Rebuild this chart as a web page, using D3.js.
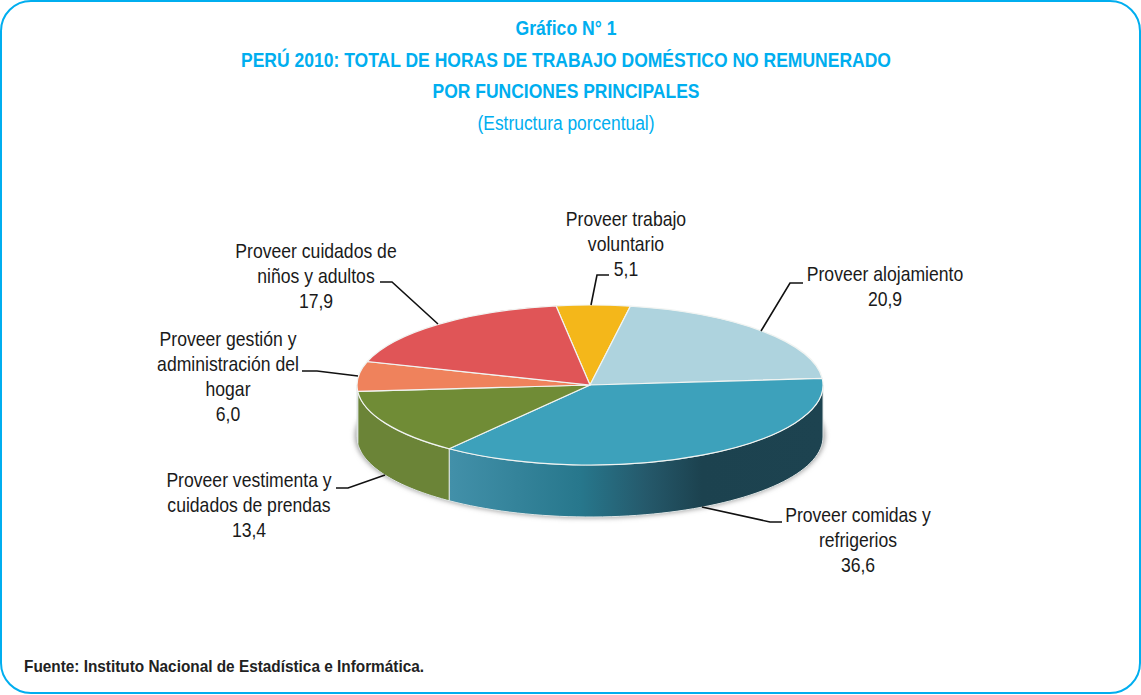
<!DOCTYPE html>
<html>
<head>
<meta charset="utf-8">
<script src="https://cdn.jsdelivr.net/npm/d3@7"></script>
<style>
  html, body { margin: 0; padding: 0; background: #fff; }
  svg { display: block; }
  text { font-family: "Liberation Sans", sans-serif; }
</style>
</head>
<body>
<svg id="chart" width="1141" height="695"></svg>
<script>
// datos
const categories = [
  "Proveer trabajo voluntario",
  "Proveer alojamiento",
  "Proveer comidas y refrigerios",
  "Proveer vestimenta y cuidados de prendas",
  "Proveer gestión y administración del hogar",
  "Proveer cuidados de niños y adultos"
];
const values = [5.1, 20.9, 36.6, 13.4, 6.0, 17.9];
const valueLabels = ["5,1", "20,9", "36,6", "13,4", "6,0", "17,9"];
const sliceColors = ["#f4b71a", "#aed3de", "#3da1bb", "#708c36", "#ef825c", "#e05557"];

const titleLines = [
  "Gráfico N° 1",
  "PERÚ 2010: TOTAL DE HORAS DE TRABAJO DOMÉSTICO NO REMUNERADO",
  "POR FUNCIONES PRINCIPALES"
];
const subtitle = "(Estructura porcentual)";
const source = "Fuente: Instituto Nacional de Estadística e Informática.";

// etiquetas partidas en lineas, mismo orden que categories
const labelLines = [
  ["Proveer trabajo", "voluntario"],
  ["Proveer alojamiento"],
  ["Proveer comidas y", "refrigerios"],
  ["Proveer vestimenta y", "cuidados de prendas"],
  ["Proveer gestión y", "administración del", "hogar"],
  ["Proveer cuidados de", "niños y adultos"]
];

// layout de etiquetas y lineas guia
const labelPos = [
  { x: 626, y: 226 }, { x: 885, y: 281 }, { x: 858, y: 522 },
  { x: 249, y: 487 }, { x: 228, y: 346 }, { x: 316, y: 258 }
];
const leaders = [
  [[609, 275], [597, 275], [591, 305]],
  [[803, 283], [790, 283], [761, 331]],
  [[782, 522], [770, 522], [702, 507]],
  [[336, 488], [348, 488], [385, 475]],
  [[302, 371], [317, 371], [358, 376]],
  [[380, 282], [392, 282], [438, 324]]
];

const cx = 590, cy = 385, rx = 233, ry = 80, depth = 52;
const yScale = ry / rx;
const startDeg = -8.4;
const narrow = 0.88;

const svg = d3.select("#chart");
const defs = svg.append("defs");

defs.append("filter").attr("id", "blur")
  .attr("x", "-10%").attr("y", "-20%").attr("width", "120%").attr("height", "140%")
  .append("feGaussianBlur").attr("stdDeviation", 2.5);

// degradados de la pared lateral
const wallBlue = defs.append("linearGradient").attr("id", "wallBlue")
  .attr("gradientUnits", "userSpaceOnUse")
  .attr("x1", cx - rx).attr("x2", cx + rx).attr("y1", 0).attr("y2", 0);
[[0.2, "#4290a9"], [0.48, "#27778c"], [0.62, "#25596b"], [0.74, "#1c424f"], [1, "#1d4350"]]
  .forEach(s => wallBlue.append("stop").attr("offset", s[0]).attr("stop-color", s[1]));

// marco
svg.append("rect")
  .attr("x", 1).attr("y", 1).attr("width", 1139).attr("height", 692)
  .attr("rx", 30).attr("ry", 30)
  .attr("fill", "#fff").attr("stroke", "#00aeef").attr("stroke-width", 2);

// titulos
const titleY = [35, 67, 98];
const titleLen = [101, 650, 267];
titleLines.forEach((t, i) => {
  svg.append("text").attr("x", 566).attr("y", titleY[i])
    .attr("text-anchor", "middle")
    .attr("font-size", 20.5).attr("font-weight", "bold").attr("fill", "#00aeef")
    .attr("textLength", titleLen[i]).attr("lengthAdjust", "spacingAndGlyphs")
    .text(t);
});
svg.append("text").attr("x", 566).attr("y", 130)
  .attr("text-anchor", "middle").attr("font-size", 20).attr("fill", "#00aeef")
  .attr("textLength", 177).attr("lengthAdjust", "spacingAndGlyphs")
  .text(subtitle);

// pastel
const pie = d3.pie().sort(null).value(d => d)
  .startAngle(startDeg * Math.PI / 180)
  .endAngle((startDeg + 360) * Math.PI / 180);
const slices = pie(values);

// punto proyectado sobre la elipse; angulo 0 arriba, horario
const px = a => cx + rx * Math.sin(a);
const py = a => cy - ry * Math.cos(a);

// sombra
svg.append("ellipse")
  .attr("cx", cx).attr("cy", cy + depth - 1)
  .attr("rx", rx + 2).attr("ry", ry + 2)
  .attr("fill", "#a0a0a0").attr("filter", "url(#blur)");

// paredes visibles: solo la parte entre 90 y 270 grados
const wallStart = Math.PI / 2, wallEnd = 3 * Math.PI / 2;
const wallColors = ["none", "none", "url(#wallBlue)", "#6b8437", "none", "none"];
const wallData = slices
  .map((s, i) => ({
    a0: Math.max(s.startAngle, wallStart),
    a1: Math.min(s.endAngle, wallEnd),
    fill: wallColors[i]
  }))
  .filter(d => d.a1 > d.a0);

function wallPath(d) {
  const n = 60;
  const steps = d3.range(n + 1).map(k => d.a0 + (d.a1 - d.a0) * k / n);
  const top = steps.map(a => [px(a), py(a)]);
  const bottom = steps.slice().reverse().map(a => [px(a), py(a) + depth]);
  return d3.line()(top.concat(bottom)) + "Z";
}

svg.append("g").selectAll("path").data(wallData).join("path")
  .attr("d", wallPath)
  .attr("fill", d => d.fill)
  .attr("stroke", "#dfe5e5").attr("stroke-width", 1);

// cara superior
const arc = d3.arc().innerRadius(0).outerRadius(rx);
svg.append("g")
  .attr("transform", `translate(${cx},${cy}) scale(1,${yScale})`)
  .selectAll("path").data(slices).join("path")
  .attr("d", arc)
  .attr("fill", (d, i) => sliceColors[i])
  .attr("stroke", "#f1f4f2").attr("stroke-width", 1.2)
  .attr("vector-effect", "non-scaling-stroke");

// lineas guia
const leaderLine = d3.line();
svg.append("g").selectAll("path").data(leaders).join("path")
  .attr("d", d => leaderLine(d))
  .attr("fill", "none").attr("stroke", "#111").attr("stroke-width", 1.6);

// etiquetas, una por linea y comprimidas en horizontal
const lineH = 25;
const labels = svg.append("g").selectAll("g").data(categories).join("g");
labels.each(function (d, i) {
  const all = labelLines[i].concat(valueLabels[i]);
  d3.select(this).selectAll("text").data(all).join("text")
    .attr("transform", (t, k) => `translate(${labelPos[i].x},${labelPos[i].y + k * lineH}) scale(${narrow},1)`)
    .attr("text-anchor", "middle").attr("font-size", 20).attr("fill", "#1a1a1a")
    .text(t => t);
});

// fuente
svg.append("text").attr("x", 24).attr("y", 672)
  .attr("font-size", 16.5).attr("font-weight", "bold").attr("fill", "#222")
  .attr("textLength", 400).attr("lengthAdjust", "spacingAndGlyphs")
  .text(source);
</script>
</body>
</html>
